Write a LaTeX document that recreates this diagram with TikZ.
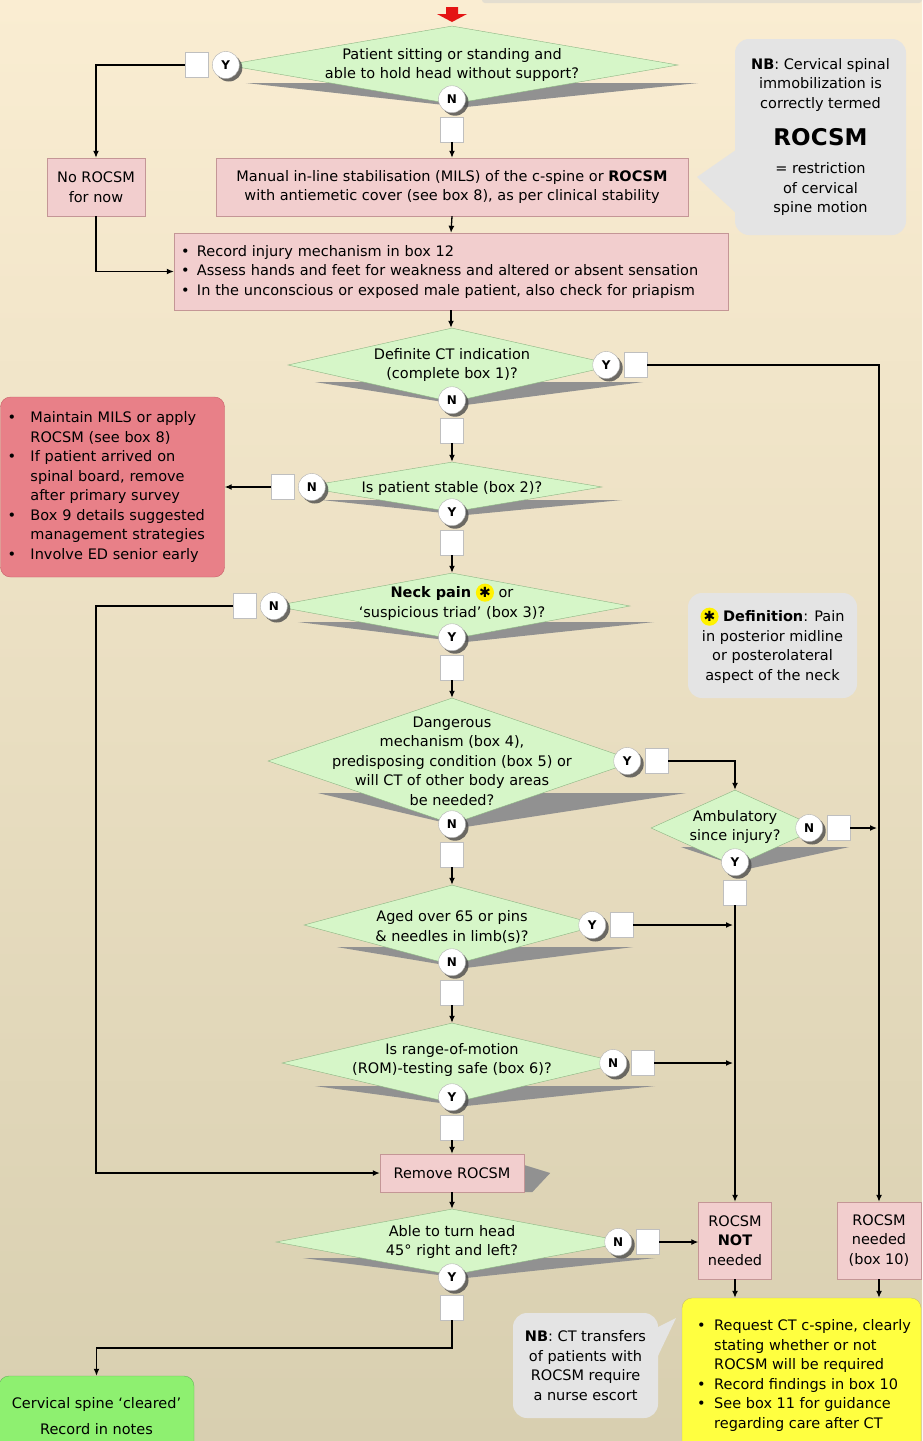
\documentclass[tikz,border=0pt]{standalone}
\usepackage{fontspec}
\setmainfont{DejaVu Sans}
\usepackage{xcolor}
\usetikzlibrary{positioning, arrows.meta, shapes.geometric, shadows, backgrounds, calc}

\definecolor{bgtop}{RGB}{250,237,210}
\definecolor{bgbot}{RGB}{216,207,176}
\definecolor{stripc}{RGB}{228,222,208}
\definecolor{diafill}{RGB}{214,246,200}
\definecolor{diaedge}{RGB}{140,180,130}
\definecolor{pinkfill}{RGB}{242,206,206}
\definecolor{pinkedge}{RGB}{196,150,150}
\definecolor{redfill}{RGB}{232,128,136}
\definecolor{rededge}{RGB}{200,95,105}
\definecolor{yelfill}{RGB}{255,255,64}
\definecolor{yeledge}{RGB}{200,190,110}
\definecolor{grnfill}{RGB}{142,240,112}
\definecolor{grnedge}{RGB}{100,180,90}
\definecolor{callgray}{RGB}{228,228,228}
\definecolor{shadowc}{RGB}{145,145,145}
\definecolor{arrowred}{RGB}{228,20,20}

\newcommand{\bul}[1][16pt]{\makebox[#1][l]{\textbullet}}
\newcommand{\bulsp}[1][16pt]{\hspace*{#1}}
\newcommand{\hlstar}{\tikz[baseline=-0.36em]{\node[shape=circle, fill=yellow, draw=none, inner sep=0pt, minimum size=1.25em, anchor=center] (hsc) at (0pt,0pt) {}; \node[shape=rectangle, fill=none, draw=none, inner sep=0pt, minimum size=0pt, anchor=center, font=\fontsize{14}{14}\selectfont] (hst) at (0pt,0pt) {✱};}}
\newcommand{\dshadow}[3]{\fill[shadowc] ($(#1.west)+(#2,#3)$) -- ($(#1.south)+(12,3)$) -- ($(#1.east)+(#2,#3)$) -- cycle;}

\begin{document}
\begin{tikzpicture}[x=1pt, y=-1pt,
    node distance=4pt,
    font=\fontsize{14.5}{19.5}\selectfont,
    dia/.style={diamond, draw=diaedge, fill=diafill, inner sep=0pt},
    dtext/.style={align=center, inner sep=0pt},
    yn/.style={circle, draw=gray!60, fill=white, minimum size=27pt, inner sep=0pt, font=\fontsize{12}{12}\selectfont\bfseries, drop shadow={shadow xshift=3pt, shadow yshift=-3pt, fill=black!70, opacity=0.8}},
    sq/.style={draw=gray!50, fill=white, minimum width=23pt, minimum height=25pt, inner sep=0pt},
    pbox/.style={draw=pinkedge, fill=pinkfill, align=center, inner sep=0pt},
    call/.style={fill=callgray, rounded corners=14pt, align=center, inner sep=0pt},
    arr/.style={-{Latex[length=7pt, width=6pt]}, line width=1.3pt}
  ]
  \useasboundingbox (0,0) rectangle (922,1441);
  \begin{scope}[on background layer]
    \shade[top color=bgtop, bottom color=bgbot] (0,0) rectangle (922,1441);
  \end{scope}

  % Strip and entry arrow
  \fill[stripc, rounded corners=3pt] (482,-6) rectangle (922,3);
  \fill[arrowred] (446,7) -- (458,7) -- (458,14) -- (467,14) -- (452,22) -- (437,14) -- (446,14) -- cycle;

  % Nodes
  \node[dia, minimum width=452pt, minimum height=78pt] (d1) at (452,65) {};
  \node[dtext] (d1t) at (452,65) {Patient sitting or standing and\\able to hold head without support?};
  \node[yn] (d1y) at (d1.west) {Y};
  \node[yn] (d1n) at ($(d1.south)+(0,-5)$) {N};
  \node[sq, left=of d1y] (s1y) {};
  \node[sq, below=of d1n] (s1n) {};

  \node[pbox, minimum width=98pt, minimum height=58pt] (noroc) at (96,187) {No ROCSM\\for now};
  \node[pbox, minimum width=472pt, minimum height=58pt] (manual) at (452,187) {Manual in-line stabilisation (MILS) of the c-spine or \textbf{ROCSM}\\with antiemetic cover (see box 8), as per clinical stability};
  \node[pbox, align=left, text width=540pt, minimum width=554pt, minimum height=77pt] (rec) at (451,271.5) {\bul Record injury mechanism in box 12\\\bul Assess hands and feet for weakness and altered or absent sensation\\\bul In the unconscious or exposed male patient, also check for priapism};

  \node[call, minimum width=171pt, minimum height=196pt] (nb) at (820.5,137) {\textbf{NB}: Cervical spinal\\immobilization is\\correctly termed\\[16pt]{\fontsize{23}{26}\selectfont\bfseries ROCSM}\\[9pt]= restriction\\of cervical\\spine motion};
  \coordinate (nbtip) at (697,177);

  \node[dia, minimum width=328pt, minimum height=74pt] (d2) at (452,365) {};
  \node[dtext] (d2t) at (452,365) {Definite CT indication\\(complete box 1)?};
  \node[yn] (d2y) at ($(d2.east)+(-10,0)$) {Y};
  \node[yn] (d2n) at ($(d2.south)+(0,-2)$) {N};
  \node[sq, right=of d2y] (s2y) {};
  \node[sq, below=of d2n] (s2n) {};

  \node[dia, minimum width=300pt, minimum height=50pt] (d3) at (452,487) {};
  \node[dtext] (d3t) at (452,488) {Is patient stable (box 2)?};
  \node[yn] (d3n) at ($(d3.west)+(10,0)$) {N};
  \node[yn] (d3y) at (d3.south) {Y};
  \node[sq, left=of d3n] (s3n) {};
  \node[sq, below=of d3y] (s3y) {};

  \node[draw=rededge, fill=redfill, rounded corners=10pt, align=left, text width=210pt, minimum width=224pt, minimum height=180pt, inner sep=0pt] (maint) at (112.5,487) {\bul[23pt]Maintain MILS or apply\\\bulsp[23pt]ROCSM (see box 8)\\\bul[23pt]If patient arrived on\\\bulsp[23pt]spinal board, remove\\\bulsp[23pt]after primary survey\\\bul[23pt]Box 9 details suggested\\\bulsp[23pt]management strategies\\\bul[23pt]Involve ED senior early};

  \node[dia, minimum width=356pt, minimum height=66pt] (d4) at (452,606) {};
  \node[dtext] (d4t) at (452,602) {\textbf{Neck pain} \hlstar{} or\\‘suspicious triad’ (box 3)?};
  \node[yn] (d4n) at (d4.west) {N};
  \node[yn] (d4y) at ($(d4.south)+(0,-2)$) {Y};
  \node[sq, left=of d4n] (s4n) {};
  \node[sq, below=of d4y] (s4y) {};

  \node[call, minimum width=169pt, minimum height=105pt] (defn) at (772.5,645.5) {\hlstar\ \textbf{Definition}: Pain\\in posterior midline\\or posterolateral\\aspect of the neck};

  \node[dia, minimum width=368pt, minimum height=126pt] (d5) at (452,761) {};
  \node[dtext] (d5t) at (452,761) {Dangerous\\mechanism (box 4),\\predisposing condition (box 5) or\\will CT of other body areas\\be needed?};
  \node[yn] (d5y) at ($(d5.east)+(-9,0)$) {Y};
  \node[yn] (d5n) at (d5.south) {N};
  \node[sq, right=of d5y] (s5y) {};
  \node[sq, below=of d5n] (s5n) {};

  \node[dia, minimum width=168pt, minimum height=76pt] (amb) at (735,828) {};
  \node[dtext] (ambt) at (735,827) {Ambulatory\\since injury?};
  \node[yn] (ambn) at ($(amb.east)+(-10,0)$) {N};
  \node[yn] (amby) at ($(amb.south)+(0,-4)$) {Y};
  \node[sq, right=of ambn] (s9n) {};
  \node[sq, below=of amby] (s9y) {};

  \node[dia, minimum width=296pt, minimum height=80pt] (d6) at (452,925) {};
  \node[dtext] (d6t) at (452,927) {Aged over 65 or pins\\\& needles in limb(s)?};
  \node[yn] (d6y) at ($(d6.east)+(-8,0)$) {Y};
  \node[yn] (d6n) at ($(d6.south)+(0,-3)$) {N};
  \node[sq, right=of d6y] (s6y) {};
  \node[sq, below=of d6n] (s6n) {};

  \node[dia, minimum width=340pt, minimum height=80pt] (d7) at (452,1063) {};
  \node[dtext] (d7t) at (452,1060) {Is range-of-motion\\(ROM)-testing safe (box 6)?};
  \node[yn] (d7n) at ($(d7.east)+(-9,0)$) {N};
  \node[yn] (d7y) at ($(d7.south)+(0,-6)$) {Y};
  \node[sq, right=of d7n] (s7n) {};
  \node[sq, below=of d7y] (s7y) {};

  \node[pbox, minimum width=144pt, minimum height=38pt] (remove) at (452,1173) {Remove ROCSM};
  \coordinate (lcorner) at (96,1173);

  \node[dia, minimum width=352pt, minimum height=66pt] (d8) at (452,1242) {};
  \node[dtext] (d8t) at (452,1242) {Able to turn head\\45°\ right and left?};
  \node[yn] (d8n) at ($(d8.east)+(-10,0)$) {N};
  \node[yn] (d8y) at ($(d8.south)+(0,2)$) {Y};
  \node[sq, right=of d8n] (s8n) {};
  \node[sq, below=of d8y] (s8y) {};
  \coordinate (ybend) at (452,1348);

  \node[pbox, minimum width=73pt, minimum height=77pt] (notn) at (735,1240.5) {ROCSM\\\textbf{NOT}\\needed};
  \node[pbox, minimum width=84pt, minimum height=77pt] (need) at (879,1240.5) {ROCSM\\needed\\(box 10)};

  \node[draw=yeledge, fill=yelfill, rounded corners=10pt, minimum width=239pt, minimum height=160pt, inner sep=0pt] (yel) at (801.5,1378) {};
  \node[align=left, inner sep=0pt, anchor=west] (yelt) at (697,1375.5) {\bul[17pt]Request CT c-spine, clearly\\\bulsp[17pt]stating whether or not\\\bulsp[17pt]ROCSM will be required\\\bul[17pt]Record findings in box 10\\\bul[17pt]See box 11 for guidance\\\bulsp[17pt]regarding care after CT};

  \node[call, minimum width=145pt, minimum height=105pt] (nb2) at (585.5,1365.5) {\textbf{NB}: CT transfers\\of patients with\\ROCSM require\\a nurse escort};
  \coordinate (nb2tip) at (676,1318);

  \node[draw=grnedge, fill=grnfill, rounded corners=10pt, minimum width=195pt, minimum height=80pt, align=center, inner sep=0pt] (green) at (96.5,1416) {Cervical spine ‘cleared’\\[7pt]Record in notes};

  % Callout pointers
  \fill[callgray] ($(nb.west)+(1,13)$) -- (nbtip) -- ($(nb.west)+(1,76)$) -- cycle;
  \fill[callgray] ($(nb2.east)+(-1,-38)$) -- (nb2tip) -- ($(nb2.east)+(-1,-8)$) -- cycle;

  % Shadows
  \begin{scope}[on background layer]
    \dshadow{d1}{20}{18}
    \dshadow{d2}{27}{17}
    \dshadow{d3}{20}{13}
    \dshadow{d4}{24}{16}
    \dshadow{d5}{50}{32}
    \dshadow{amb}{30}{19}
    \dshadow{d6}{33}{22}
    \dshadow{d7}{33}{23}
    \dshadow{d8}{27}{16}
    \fill[shadowc] ($(remove.east)+(0,-8)$) -- ($(remove.east)+(26,0)$) -- ($(remove.south east)+(8,0)$) -- (remove.south east) -- cycle;
  \end{scope}

  % Edges
  \draw[arr] (s1y.west) -| (noroc.north);
  \draw[arr] (s1n.south) -- (manual.north);
  \draw[arr] (noroc.south) |- (rec.west);
  \draw[arr] (manual.south) -- (rec.north);
  \draw[arr] (rec.south) -- (rec.south |- d2.north);
  \draw[arr] (s2y.east) -| (need.north);
  \draw[arr] (s2n.south) -- (d3.north);
  \draw[arr] (s3n.west) -- (maint.east);
  \draw[arr] (s3y.south) -- (d4.north);
  \draw[arr] (s4n.west) -| (lcorner) -- (remove.west);
  \draw[arr] (s4y.south) -- (d5.north);
  \draw[arr] (s5y.east) -| (amb.north);
  \draw[arr] (s5n.south) -- (d6.north);
  \draw[arr, shorten >=2pt] (s9n.east) -- (s9n.east -| need.north);
  \draw[arr] (s9y.south) -- (notn.north);
  \draw[arr, shorten >=2pt] (s6y.east) -- (s6y.east -| notn.north);
  \draw[arr] (s6n.south) -- (d7.north);
  \draw[arr, shorten >=2pt] (s7n.east) -- (s7n.east -| notn.north);
  \draw[arr] (s7y.south) -- (remove.north);
  \draw[arr] (remove.south) -- (d8.north);
  \draw[arr] (s8n.east) -- (s8n.east -| notn.west);
  \draw[arr] (s8y.south) -- (ybend) -| (green.north);
  \draw[arr] (notn.south) -- (notn.south |- yel.north);
  \draw[arr] (need.south) -- (need.south |- yel.north);
\end{tikzpicture}
\end{document}
